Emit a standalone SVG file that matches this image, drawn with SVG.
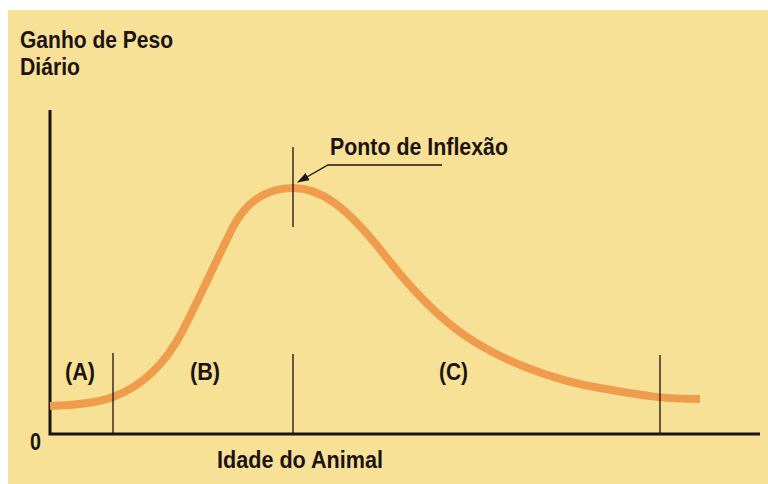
<svg xmlns="http://www.w3.org/2000/svg" width="768" height="484" viewBox="0 0 768 484">
<defs>
<style>
.t{font-family:"Liberation Sans",Arial,sans-serif;font-weight:bold;font-size:24px;fill:#1c1212}
.thin{stroke:#1c1212;stroke-width:1.3;fill:none}
.axis{stroke:#1c1212;stroke-width:3;fill:none}
</style>
<marker id="ah" markerWidth="12" markerHeight="8" refX="11" refY="4" orient="auto" markerUnits="userSpaceOnUse">
<path d="M0,0 L12,4 L0,8 Z" fill="#1c1212"/>
</marker>
</defs>
<rect x="0" y="0" width="768" height="484" fill="#ffffff"/>
<rect x="8" y="10" width="760" height="474" fill="#f6e196"/>
<g id="title">
<text class="t" x="20" y="48" textLength="153" lengthAdjust="spacingAndGlyphs">Ganho de Peso</text>
<text class="t" x="20" y="75" textLength="60" lengthAdjust="spacingAndGlyphs">Diário</text>
</g>
<g id="axes">
<path class="axis" d="M50,110 V434 H760"/>
<text class="t" x="30" y="450" textLength="11" lengthAdjust="spacingAndGlyphs">0</text>
<text class="t" x="217" y="468" textLength="166" lengthAdjust="spacingAndGlyphs">Idade do Animal</text>
</g>
<g id="curve">
<path d="M50,406 C80,405 100,402 113,397 C140,387 165,365 183,330 C199,299 217,259 233,227 C245,204 265,188 293,188 C320,188 345,205 383,253 C400,275 430,312 467,337 C500,359 550,380 600,388 C630,393 655,399 700,399" fill="none" stroke="#ef9c4d" stroke-width="8"/>
</g>
<g id="phases">
<line class="thin" x1="113" y1="353" x2="113" y2="433"/>
<line class="thin" x1="293" y1="354" x2="293" y2="433"/>
<line class="thin" x1="660" y1="355" x2="660" y2="433"/>
<text class="t" x="65" y="380" textLength="30" lengthAdjust="spacingAndGlyphs">(A)</text>
<text class="t" x="190" y="380" textLength="30" lengthAdjust="spacingAndGlyphs">(B)</text>
<text class="t" x="439" y="380" textLength="29" lengthAdjust="spacingAndGlyphs">(C)</text>
</g>
<g id="inflection">
<line class="thin" x1="293" y1="147" x2="293" y2="227"/>
<text class="t" x="330" y="155" textLength="178" lengthAdjust="spacingAndGlyphs">Ponto de Inflexão</text>
</g>
<g id="connectors">
<path class="thin" d="M442,165 H328 L298,182" marker-end="url(#ah)"/>
</g>
</svg>
